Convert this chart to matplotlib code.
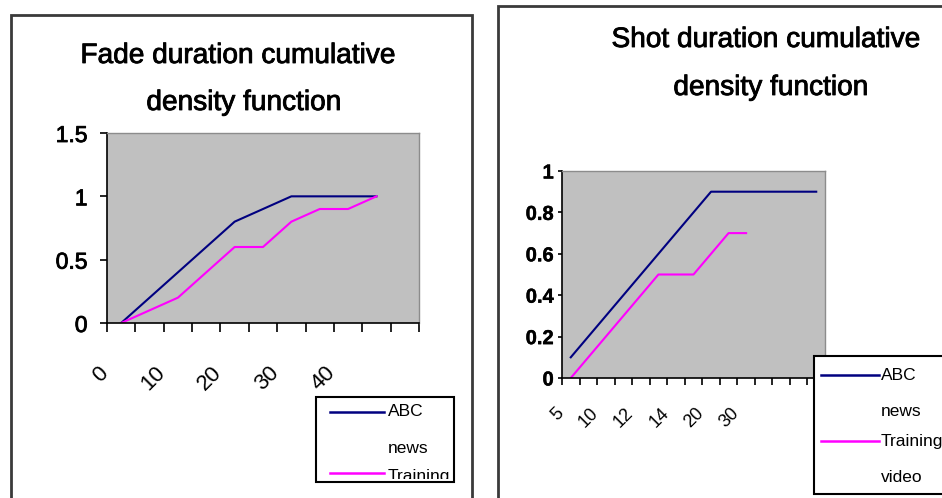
import matplotlib
matplotlib.use("Agg")
import matplotlib.pyplot as plt
import matplotlib.patheffects as pe
from matplotlib.lines import Line2D
from matplotlib.patches import Rectangle
from matplotlib.transforms import Bbox, TransformedBbox

# ---------------- data ----------------
fade_n_categories = 11
fade_x_labels = ['0', '10', '20', '30', '40']
fade_abc = [0, 0.2, 0.4, 0.6, 0.8, 0.9, 1.0, 1.0, 1.0, 1.0]
fade_training = [0, 0.1, 0.2, 0.4, 0.6, 0.6, 0.8, 0.9, 0.9, 1.0]
fade_y_ticks = [0, 0.5, 1, 1.5]
fade_y_labels = ['0', '0.5', '1', '1.5']

shot_n_categories = 15
shot_x_labels = ['5', '10', '12', '14', '20', '30']
shot_abc = [0.1, 0.2, 0.3, 0.4, 0.5, 0.6, 0.7, 0.8, 0.9, 0.9, 0.9, 0.9, 0.9, 0.9, 0.9]
shot_training = [0, 0.1, 0.2, 0.3, 0.4, 0.5, 0.5, 0.5, 0.6, 0.7, 0.7]
shot_y_ticks = [0, 0.2, 0.4, 0.6, 0.8, 1]
shot_y_labels = ['0', '0.2', '0.4', '0.6', '0.8', '1']

series_names = ['ABC\nnews', 'Training\nvideo']
series_colors = ['#000080', '#FF00FF']

# ---------------- layout helpers ----------------
W, H = 942, 498
fig = plt.figure(figsize=(W / 100, H / 100), dpi=100)
fig.patch.set_facecolor('white')
plt.rcParams['font.family'] = ['Liberation Sans', 'DejaVu Sans']

heavy = [pe.withStroke(linewidth=0.6, foreground='black')]
light = [pe.withStroke(linewidth=0.3, foreground='black')]


def fx(x):
    return x / W


def fy(y):
    return 1 - y / H


def add_axes_px(x0, y0, x1, y1):
    return fig.add_axes([fx(x0), fy(y1), fx(x1) - fx(x0), fy(y0) - fy(y1)])


def style_axes(ax, n_cat, yticks, ylabels, ylim, xlabels, xtick_len, ytick_len,
               ylab_size, ylab_weight, ylab_pad, ylab_fx, xlab_size, xlab_pad,
               xlab_offset):
    ax.set_facecolor('#C0C0C0')
    ax.set_xlim(0, n_cat)
    ax.set_ylim(*ylim)
    for s in ['top', 'right']:
        ax.spines[s].set_color('#8C8C8C')
        ax.spines[s].set_linewidth(1.0)
    for s in ['left', 'bottom']:
        ax.spines[s].set_color('black')
        ax.spines[s].set_linewidth(1.2)
    ax.set_yticks(yticks)
    ax.set_yticklabels(ylabels, fontsize=ylab_size, fontweight=ylab_weight)
    for t in ax.get_yticklabels():
        t.set_path_effects(ylab_fx)
    ax.tick_params(axis='y', direction='out', length=ytick_len, width=1.2,
                   pad=ylab_pad, colors='black')
    # tick marks on category boundaries
    ax.set_xticks(list(range(n_cat + 1)))
    ax.set_xticklabels([])
    ax.tick_params(axis='x', which='major', direction='out', length=xtick_len,
                   width=1.2, colors='black')
    # labels on every second category boundary (slightly offset)
    pos = [2 * i + xlab_offset for i in range(len(xlabels))]
    ax.set_xticks(pos, minor=True)
    ax.set_xticklabels(xlabels, minor=True, fontsize=xlab_size, rotation=45,
                       ha='right', va='top')
    ax.tick_params(axis='x', which='minor', length=0, pad=xlab_pad + xtick_len)


def frame(points):
    xs = [fx(p[0]) for p in points]
    ys = [fy(p[1]) for p in points]
    fig.add_artist(Line2D(xs, ys, transform=fig.transFigure, color='#3A3A3A',
                          linewidth=2.0, solid_joinstyle='miter'))


def legend_px(box, line_x0, line_x1, text_x, rows, size):
    x0, y0, x1, y1 = box
    fig.add_artist(Rectangle((fx(x0), fy(y1)), fx(x1) - fx(x0), fy(y0) - fy(y1),
                             transform=fig.transFigure, facecolor='white',
                             edgecolor='black', linewidth=1.5, zorder=5))
    clip = TransformedBbox(Bbox.from_extents(fx(x0), fy(y1) + 3.5 / H,
                                             fx(x1), fy(y0)),
                           fig.transFigure)
    for (label_lines, color, ly, ys) in rows:
        fig.add_artist(Line2D([fx(line_x0), fx(line_x1)], [fy(ly), fy(ly)],
                              transform=fig.transFigure, color=color,
                              linewidth=1.8, zorder=6))
        for txt, yy in zip(label_lines, ys):
            t = fig.text(fx(text_x), fy(yy), txt, fontsize=size, ha='left',
                         va='center', zorder=7)
            t.set_clip_box(clip)
            t.set_clip_on(True)


# ---------------- outer frames ----------------
frame([(11, 510), (11, 15), (472, 15), (472, 510)])
frame([(498, 510), (498, 6), (960, 6)])

# ---------------- left chart ----------------
ax1 = add_axes_px(107, 133, 419, 323)
style_axes(ax1, fade_n_categories, fade_y_ticks, fade_y_labels, (0, 1.5),
           fade_x_labels, xtick_len=6.5, ytick_len=5, ylab_size=16.5,
           ylab_weight='normal', ylab_pad=9, ylab_fx=heavy,
           xlab_size=16, xlab_pad=22, xlab_offset=0.2)
xs = [i + 0.5 for i in range(len(fade_abc))]
ax1.plot(xs, fade_abc, color=series_colors[0], linewidth=1.5)
xs = [i + 0.5 for i in range(len(fade_training))]
ax1.plot(xs, fade_training, color=series_colors[1], linewidth=1.5)

fig.text(fx(238), fy(63), 'Fade duration cumulative', fontsize=20.2,
         ha='center', va='baseline', path_effects=heavy)
fig.text(fx(244), fy(110), 'density function', fontsize=20.2,
         ha='center', va='baseline', path_effects=heavy)

legend_px((316, 397, 454, 482), 330, 384, 388,
          [(series_names[0].split('\n'), series_colors[0], 412, [412, 448]),
           (series_names[1].split('\n')[:1], series_colors[1], 473, [476])], 12.5)

# ---------------- right chart ----------------
ax2 = add_axes_px(562, 171, 825, 378)
style_axes(ax2, shot_n_categories, shot_y_ticks, shot_y_labels, (0, 1),
           shot_x_labels, xtick_len=5, ytick_len=3, ylab_size=14.5,
           ylab_weight='bold', ylab_pad=3, ylab_fx=light,
           xlab_size=13, xlab_pad=14, xlab_offset=0.28)
xs = [i + 0.5 for i in range(len(shot_abc))]
ax2.plot(xs, shot_abc, color=series_colors[0], linewidth=1.5)
xs = [i + 0.5 for i in range(len(shot_training))]
ax2.plot(xs, shot_training, color=series_colors[1], linewidth=1.5)

fig.text(fx(766), fy(47), 'Shot duration cumulative', fontsize=20.2,
         ha='center', va='baseline', path_effects=heavy)
fig.text(fx(771), fy(95), 'density function', fontsize=20.2,
         ha='center', va='baseline', path_effects=heavy)

legend_px((814, 356, 960, 494), 821, 879, 881,
          [(series_names[0].split('\n'), series_colors[0], 375, [375, 412]),
           (series_names[1].split('\n'), series_colors[1], 441, [441, 478])],
          12.5)

fig.savefig('out.png', dpi=100, facecolor='white')
